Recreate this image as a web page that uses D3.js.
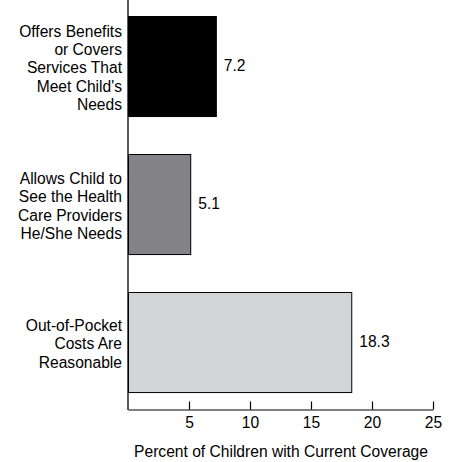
<!DOCTYPE html>
<html><head><meta charset="utf-8">
<script src="https://cdn.jsdelivr.net/npm/d3@7"></script>
<style>
body{margin:0;background:#fff;}
text{font-family:"Liberation Sans",Arial,sans-serif;fill:#000;}
</style></head>
<body>
<svg id="c" width="456" height="462"></svg>
<script>
const categories = [
  ["Offers Benefits","or Covers","Services That","Meet Child's","Needs"],
  ["Allows Child to","See the Health","Care Providers","He/She Needs"],
  ["Out-of-Pocket","Costs Are","Reasonable"]
];
const values = [7.2, 5.1, 18.3];
const colors = ["#000000", "#848488", "#d3d4d6"];
const xTicks = [5, 10, 15, 20, 25];
const xTitle = "Percent of Children with Current Coverage";

const svg = d3.select("#c");
const fs = 15.6;
const x = d3.scaleLinear().domain([0, 25]).range([128, 433]);
const ids = categories.map((d,i)=>i);
const y = d3.scaleBand().domain(ids).range([-3, 411]).paddingInner(0.275).paddingOuter(0.1375);
const base = 409;

// bars
svg.selectAll("rect.bar").data(values).join("rect")
  .attr("x", x(0)+0.5)
  .attr("y", (d,i)=>Math.round(y(i))+0.5)
  .attr("width", d=>x(d)-x(0))
  .attr("height", y.bandwidth())
  .attr("fill", (d,i)=>colors[i])
  .attr("stroke", "#000").attr("stroke-width", 1);

// value labels
svg.selectAll("text.val").data(values).join("text")
  .attr("x", d=>x(d)+8)
  .attr("y", (d,i)=>y(i)+y.bandwidth()/2)
  .attr("dy","0.35em")
  .attr("font-size", fs)
  .text(d=>d.toFixed(1));

// category labels
const lh = 18.3;
categories.forEach((lines,i)=>{
  const cy = y(i)+y.bandwidth()/2 + 2;
  const t = svg.append("text").attr("text-anchor","end").attr("font-size",fs);
  lines.forEach((ln,j)=>{
    t.append("tspan").attr("x",122)
     .attr("y", cy + (j-(lines.length-1)/2)*lh)
     .attr("dy","0.35em").text(ln);
  });
});

// x axis
const ax = svg.append("g").attr("transform",`translate(0,${base+0.5})`)
  .call(d3.axisBottom(x).tickValues(xTicks).tickSizeInner(-8).tickSizeOuter(0).tickPadding(7));
ax.select(".domain").attr("stroke","#000").attr("stroke-width",1.2);
ax.selectAll(".tick line").attr("stroke","#000").attr("stroke-width",1.2);
ax.selectAll(".tick text").attr("font-size",fs).attr("font-family","Liberation Sans, Arial, sans-serif");

// y axis line
svg.append("line").attr("x1",x(0)).attr("x2",x(0)).attr("y1",0).attr("y2",base+1)
  .attr("stroke","#000").attr("stroke-width",1.3);

// title
svg.append("text").attr("x",281).attr("y",452).attr("dy","0.35em")
  .attr("text-anchor","middle").attr("font-size",fs).text(xTitle);
</script>
</body></html>
